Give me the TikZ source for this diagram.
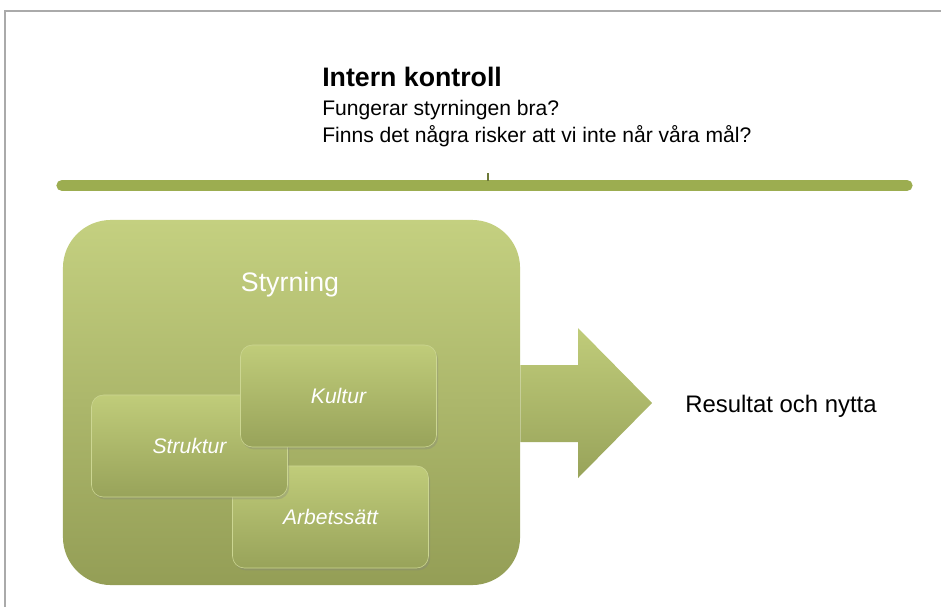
\documentclass[tikz,border=0pt]{standalone}
\usepackage{fontspec}
\setmainfont{Liberation Sans}
\usepackage{tikz}
\usetikzlibrary{positioning, shadows}

\definecolor{barGreen}{RGB}{156,173,80}
\definecolor{boxTop}{RGB}{196,208,128}
\definecolor{boxBottom}{RGB}{148,158,86}
\definecolor{innerTop}{RGB}{192,204,122}
\definecolor{innerBottom}{RGB}{152,163,90}
\definecolor{innerEdge}{RGB}{204,214,146}
\definecolor{frameGray}{RGB}{170,170,170}

\begin{document}
\begin{tikzpicture}[x=0.025cm, y=-0.025cm,
    bigbox/.style={rounded corners=1.2cm, top color=boxTop, bottom color=boxBottom,
        minimum width=11.425cm, minimum height=9.125cm, inner sep=0pt},
    partbox/.style={rounded corners=0.3cm, draw=innerEdge, thin, top color=innerTop,
        bottom color=innerBottom, minimum width=4.9cm, minimum height=2.55cm,
        text=white, font=\fontsize{15}{18}\selectfont\itshape,
        drop shadow={opacity=0.3, shadow xshift=0.04cm, shadow yshift=-0.06cm}},
    heading/.style={anchor=base west, inner sep=0pt, font=\fontsize{19}{22}\selectfont\bfseries},
    question/.style={anchor=base west, inner sep=0pt, font=\fontsize{15}{18}\selectfont}]
    \useasboundingbox (0,0) rectangle (941,607);

    % Frame
    \draw[frameGray, line width=1.5pt] (5,607) -- (5,11) -- (941,11);

    % Heading and questions
    \node[heading] (title) at (322,86) {Intern kontroll};
    \node[question] (q1) at (322,115) {Fungerar styrningen bra?};
    \node[question] (q2) at (322,142) {Finns det några risker att vi inte når våra mål?};

    % Green bar with small tick
    \draw[barGreen, line width=8pt, line cap=round] (62,185.5) -- (907,185.5);
    \draw[barGreen!70!black, line width=0.8pt] (488,173) -- (488,181);

    % Styrning box
    \node[bigbox] (styrning) at (291.5,402.5) {};
    \node[text=white, font=\fontsize{19}{22}\selectfont] (styrlabel) at (290,285) {Styrning};

    % Parts, back to front
    \node[partbox] (arbetssatt) at (330.5,517) {Arbetssätt};
    \node[partbox] (struktur) at (189.5,446) {Struktur};
    \node[partbox] (kultur) at (338.5,396) {Kultur};

    % Block arrow to result
    \shade[top color=innerTop, bottom color=innerBottom]
        (styrning.east |- 0,365) -- (578,365) -- (578,328) -- (652,403)
        -- (578,478) -- (578,442) -- (styrning.east |- 0,442) -- cycle;
    \node[anchor=base west, inner sep=0pt, font=\fontsize{17}{20}\selectfont] (resultat) at (685,412) {Resultat och nytta};
\end{tikzpicture}
\end{document}
